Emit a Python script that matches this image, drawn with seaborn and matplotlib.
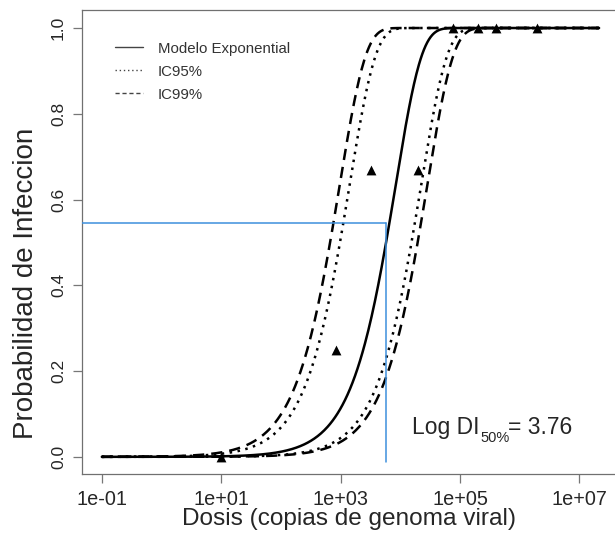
import numpy as np
import pandas as pd
import matplotlib
matplotlib.use("Agg")
import matplotlib.pyplot as plt
from matplotlib.lines import Line2D
import seaborn as sns

# ---- data ----
obs_dose = [10, 830, 3240, 19950, 75900, 199500, 398000, 1950000]
obs_prob = [0.0, 0.25, 0.67, 0.67, 1.0, 1.0, 1.0, 1.0]

r_model = 1.2e-4            # exponential model parameter
r_ic95 = [4.5e-5, 7.1e-4]   # 95% interval for r
r_ic99 = [3.55e-5, 1.04e-3] # 99% interval for r

log_di50 = 3.76
p_ref = 0.545

x_ticks = [1e-1, 1e1, 1e3, 1e5, 1e7]
x_ticklabels = ["1e-01", "1e+01", "1e+03", "1e+05", "1e+07"]
y_ticks = [0.0, 0.2, 0.4, 0.6, 0.8, 1.0]
y_ticklabels = ["0.0", "0.2", "0.4", "0.6", "0.8", "1.0"]

legend_labels = ["Modelo Exponential", "IC95%", "IC99%"]

# ---- style ----
sns.set_style("ticks")
plt.rcParams["font.family"] = ["Liberation Sans", "DejaVu Sans"]

W, H = 615, 537
fig = plt.figure(figsize=(W / 100, H / 100), dpi=100)
ax = fig.add_axes([82 / W, (H - 474) / H, 535 / W, 464 / H])

dose = np.logspace(-1, 7.33, 600)
curves = []
for name, r, style in [("model", r_model, "solid"),
                       ("ic95_lo", r_ic95[0], "dot"), ("ic95_hi", r_ic95[1], "dot"),
                       ("ic99_lo", r_ic99[0], "dash"), ("ic99_hi", r_ic99[1], "dash")]:
    curves.append(pd.DataFrame({"dose": dose, "p": 1 - np.exp(-r * dose),
                                "curve": name, "style": style}))
df = pd.concat(curves, ignore_index=True)

ls_map = {"solid": "-", "dot": (0, (1, 2.2)), "dash": (0, (4.5, 2.8))}
for name, sub in df.groupby("curve", sort=False):
    st = sub["style"].iloc[0]
    sns.lineplot(data=sub, x="dose", y="p", ax=ax, color="black",
                 lw=1.8, linestyle=ls_map[st], legend=False, estimator=None)

sns.scatterplot(x=obs_dose, y=obs_prob, ax=ax, marker="^", s=50,
                color="black", edgecolor="black", linewidth=0, zorder=5)

ax.set_xscale("log")
xlo, xhi = 10 ** -1.332, 10 ** 7.63
ax.set_xlim(xlo, xhi)
ax.set_ylim(-0.04, 1.042)

# reference lines for DI50
blue = "#3d8fdc"
ax.plot([xlo, 10 ** log_di50], [p_ref, p_ref], color=blue, lw=1.1, zorder=3)
ax.plot([10 ** log_di50, 10 ** log_di50], [-0.012, p_ref], color=blue, lw=1.1, zorder=3)

ax.set_xticks(x_ticks)
ax.set_xticklabels(x_ticklabels, fontsize=14.3)
ax.minorticks_off()
ax.set_yticks(y_ticks)
ax.set_yticklabels(y_ticklabels, fontsize=12.5, rotation=90, va="center")
ax.tick_params(axis="both", length=6.5, width=0.9, color="#777777")
ax.tick_params(axis="x", pad=5)
ax.tick_params(axis="y", pad=5)

for s in ax.spines.values():
    s.set_color("#707070")
    s.set_linewidth(0.9)

ax.set_xlabel("Dosis (copias de genoma viral)", fontsize=17.6, labelpad=-1)
ax.set_ylabel("Probabilidad de Infeccion", fontsize=20)
ax.yaxis.set_label_coords(-0.080, 0.41)

handles = [Line2D([], [], color="#444444", lw=1.0, linestyle="-"),
           Line2D([], [], color="#444444", lw=1.0, linestyle=(0, (1, 2))),
           Line2D([], [], color="#444444", lw=1.0, linestyle=(0, (3, 2)))]
ax.legend(handles, legend_labels, loc="upper left", frameon=False,
          bbox_to_anchor=(0.036, 0.961), fontsize=10.8, handlelength=1.85,
          handletextpad=1.0, labelspacing=0.6, labelcolor="#333333")

txt_fam = ["Liberation Sans", "DejaVu Sans"]
ax.text(0.6165, 0.087, "Log DI", transform=ax.transAxes, fontsize=16.5,
        family=txt_fam, ha="left", va="baseline")
ax.text(0.7440, 0.068, "50%", transform=ax.transAxes, fontsize=10.5,
        family=txt_fam, ha="left", va="baseline")
ax.text(0.7960, 0.087, "= 3.76", transform=ax.transAxes, fontsize=16.5,
        family=txt_fam, ha="left", va="baseline")

fig.savefig("out.png", dpi=100)
